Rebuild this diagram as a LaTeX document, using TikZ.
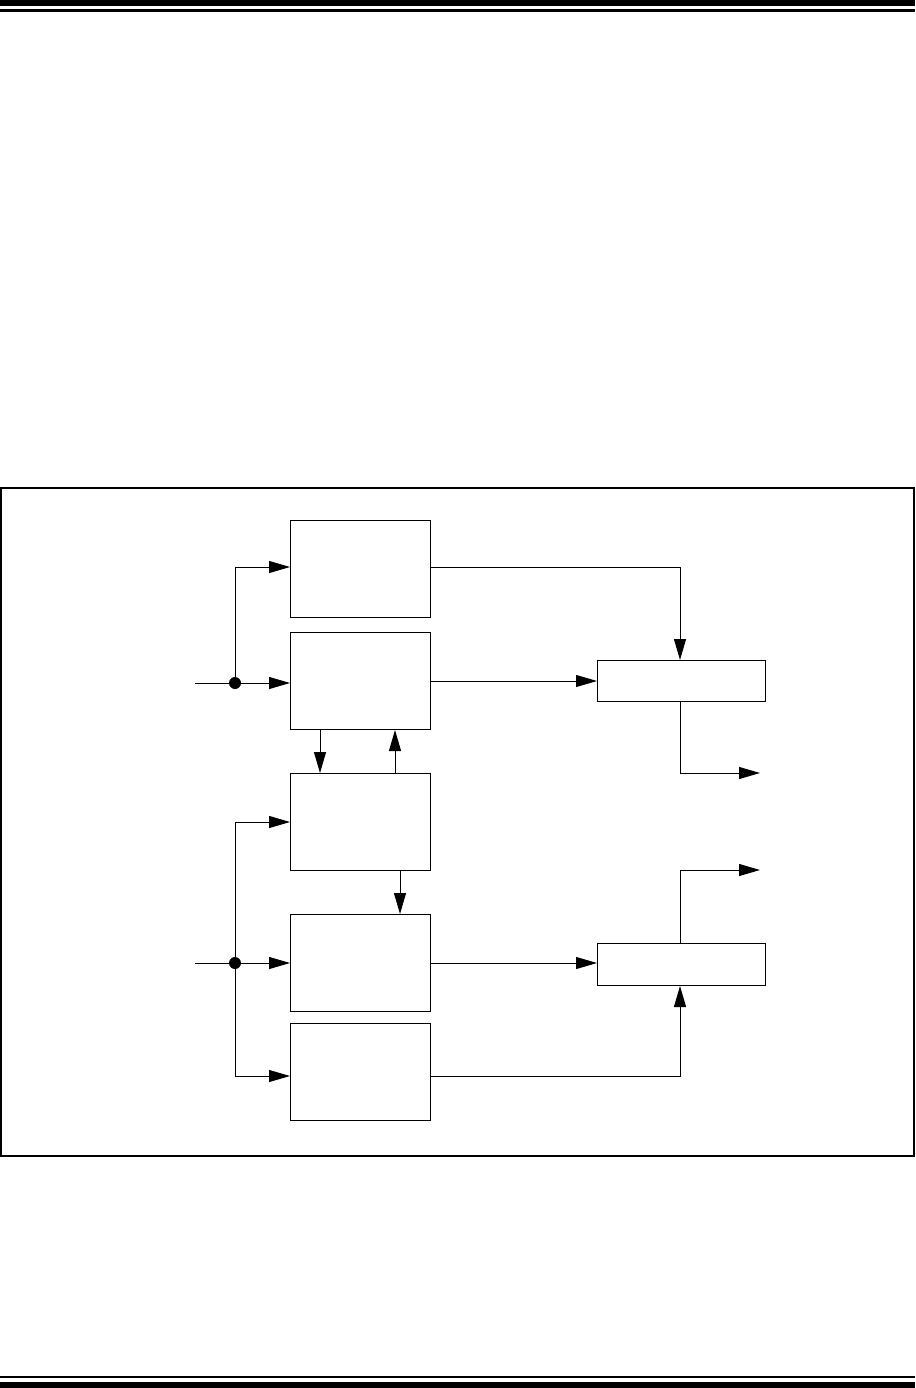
\documentclass[tikz,border=0pt]{standalone}
\usetikzlibrary{arrows.meta}
\begin{document}
\begin{tikzpicture}[x=1pt,y=-1pt,
  blk/.style={draw,line width=1pt,inner sep=0pt,anchor=north west},
  wire/.style={line width=1pt},
  arr/.style={line width=1pt,-{Triangle[length=21pt,width=12pt]}},
  junction/.style={circle,fill=black,inner sep=0pt,minimum size=12pt}]
\useasboundingbox (0,0) rectangle (915,1388);
% header / footer bars
\fill (0,0) rectangle (915,6);
\fill (0,9.5) rectangle (915,12);
\fill (0,1375.7) rectangle (915,1377.5);
\fill (0,1381.7) rectangle (915,1388);
% frame
\draw[line width=1.2pt] (1,488) rectangle (914,1156);
% blocks
\node[blk,minimum width=140pt,minimum height=97pt] (b1) at (290,520) {};
\node[blk,minimum width=140pt,minimum height=97pt] (b2) at (290,632) {};
\node[blk,minimum width=140pt,minimum height=97pt] (b3) at (290,773) {};
\node[blk,minimum width=140pt,minimum height=97pt] (b4) at (290,914) {};
\node[blk,minimum width=140pt,minimum height=97pt] (b5) at (290,1023) {};
\node[blk,minimum width=168pt,minimum height=41pt] (r1) at (597,660) {};
\node[blk,minimum width=168pt,minimum height=42pt] (r2) at (597,943) {};
% inputs
\coordinate (in1) at (195,683);
\coordinate (in2) at (195,963);
\node[junction] (j1) at (235,683) {};
\node[junction] (j2) at (235,963) {};
\draw[wire] (in1) -- (j1);
\draw[arr] (j1) -- (b2.west |- j1);
\draw[arr] (j1.center) |- (b1.west |- 0,567);
\draw[wire] (in2) -- (j2);
\draw[arr] (j2) -- (b4.west |- j2);
\draw[arr] (j2.center) |- (b3.west |- 0,822);
\draw[arr] (j2.center) |- (b5.west |- 0,1076);
% block interconnections
\draw[arr] (b2.south -| 320,0) -- (b3.north -| 320,0);
\draw[arr] (b3.north -| 395,0) -- (b2.south -| 395,0);
\draw[arr] (b3.south -| 400,0) -- (b4.north -| 400,0);
% to right blocks
\draw[arr] (b1.east |- 0,567) -| (r1.north -| 680,0);
\draw[arr] (b2.east |- 0,681) -- (r1.west |- 0,681);
\draw[arr] (b4.east |- 0,963) -- (r2.west |- 0,963);
\draw[arr] (b5.east |- 0,1076) -| (r2.south -| 680,0);
% outputs
\coordinate (o1) at (760,773);
\coordinate (o2) at (760,870);
\draw[arr] (r1.south -| 680,0) |- (o1);
\draw[arr] (r2.north -| 680,0) |- (o2);
\end{tikzpicture}
\end{document}
